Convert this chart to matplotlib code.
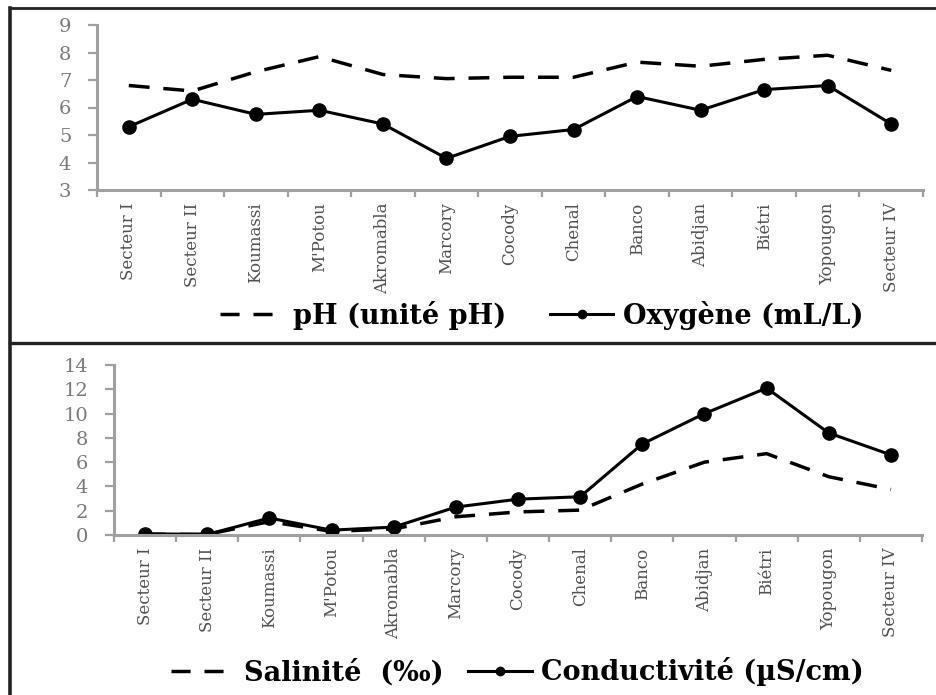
import matplotlib
matplotlib.use("Agg")
import matplotlib.pyplot as plt
from matplotlib.lines import Line2D

plt.rcParams['font.family'] = ['DejaVu Serif']

stations = ["Secteur I", "Secteur II", "Koumassi", "M'Potou", "Akromabla", "Marcory",
            "Cocody", "Chenal", "Banco", "Abidjan", "Biétri", "Yopougon", "Secteur IV"]
ph = [6.8, 6.6, 7.3, 7.85, 7.2, 7.05, 7.1, 7.1, 7.65, 7.5, 7.75, 7.9, 7.35]
oxygen = [5.3, 6.3, 5.75, 5.9, 5.4, 4.15, 4.95, 5.2, 6.4, 5.9, 6.65, 6.8, 5.4]
salinity = [0.05, 0.05, 1.1, 0.3, 0.5, 1.5, 1.9, 2.05, 4.2, 6.0, 6.7, 4.8, 3.75]
conductivity = [0.1, 0.05, 1.4, 0.4, 0.65, 2.3, 2.95, 3.15, 7.5, 10.0, 12.1, 8.4, 6.6]

W, H = 937, 695
fig = plt.figure(figsize=(W / 100, H / 100), dpi=100)
fig.patch.set_facecolor('white')

def fx(px):
    return px / W

def fy(py):
    return 1 - py / H

gray = '#a0a0a0'
label_gray = '#7a7a7a'

def style(ax, ymin, ymax, ystep):
    x = range(len(stations))
    ax.set_xlim(-0.5, len(stations) - 0.5)
    ax.set_ylim(ymin, ymax)
    ax.set_yticks(range(ymin, ymax + 1, ystep))
    ax.set_xticks(list(x))
    ax.set_xticklabels(stations, rotation=90, fontsize=12, color='#505050')
    ax.set_xticks([i - 0.5 for i in range(len(stations) + 1)], minor=True)
    ax.tick_params(axis='x', which='major', length=0, pad=9)
    ax.tick_params(axis='x', which='minor', length=5, width=1.6, color=gray, direction='out')
    ax.tick_params(axis='y', length=6.5, width=1.6, color=gray, direction='out', pad=12,
                   labelsize=14, labelcolor=label_gray)
    for s in ['top', 'right']:
        ax.spines[s].set_visible(False)
    for s in ['left', 'bottom']:
        ax.spines[s].set_color(gray)
        ax.spines[s].set_linewidth(2.2)
    ax.patch.set_alpha(0)

x = list(range(len(stations)))

# top panel
ax1 = fig.add_axes([fx(97), fy(190), fx(923 - 97), (190 - 25) / H])
ax1.plot(x, ph, color='black', lw=2.5, dashes=(6, 4), label='pH (unité pH)')
ax1.plot(x, oxygen, color='black', lw=2.2, marker='o', markersize=9.5, label='Oxygène (mL/L)')
style(ax1, 3, 9, 1)

# bottom panel
ax2 = fig.add_axes([fx(114), fy(535), fx(922 - 114), (535 - 365) / H])
ax2.plot(x, salinity, color='black', lw=2.5, dashes=(6, 4), label='Salinité (‰)')
ax2.plot(x, conductivity, color='black', lw=2.2, marker='o', markersize=9.5,
         label='Conductivité (µS/cm)')
style(ax2, 0, 14, 2)

# legends
hl_dash = Line2D([], [], color='black', lw=2.5, dashes=(5.5, 4))
hl_solid = Line2D([], [], color='black', lw=2.2, marker='o', markersize=6)
leg_kw = dict(loc='center left', ncol=2, frameon=False,
              prop={'weight': 'bold', 'size': 19.5}, handlelength=2.35, handletextpad=0.35,
              borderpad=0, borderaxespad=0)
fig.legend([hl_dash, hl_solid], ['pH (unité pH)', 'Oxygène (mL/L)'],
           bbox_to_anchor=(fx(220), fy(315)), columnspacing=1.6, **leg_kw)
fig.legend([hl_dash, hl_solid], ['Salinité  (‰)', 'Conductivité (µS/cm)'],
           bbox_to_anchor=(fx(171), fy(672)), columnspacing=0.9, **leg_kw)

# frame lines
kw = dict(color='#222222', transform=fig.transFigure)
fig.add_artist(Line2D([fx(10), fx(10)], [0, fy(8)], lw=2.6, **kw))
fig.add_artist(Line2D([fx(10), 1], [fy(8), fy(8)], lw=2.0, **kw))
fig.add_artist(Line2D([fx(10), 1], [fy(343.5), fy(343.5)], lw=2.4, **kw))

fig.savefig('out.png', dpi=100, facecolor='white')
